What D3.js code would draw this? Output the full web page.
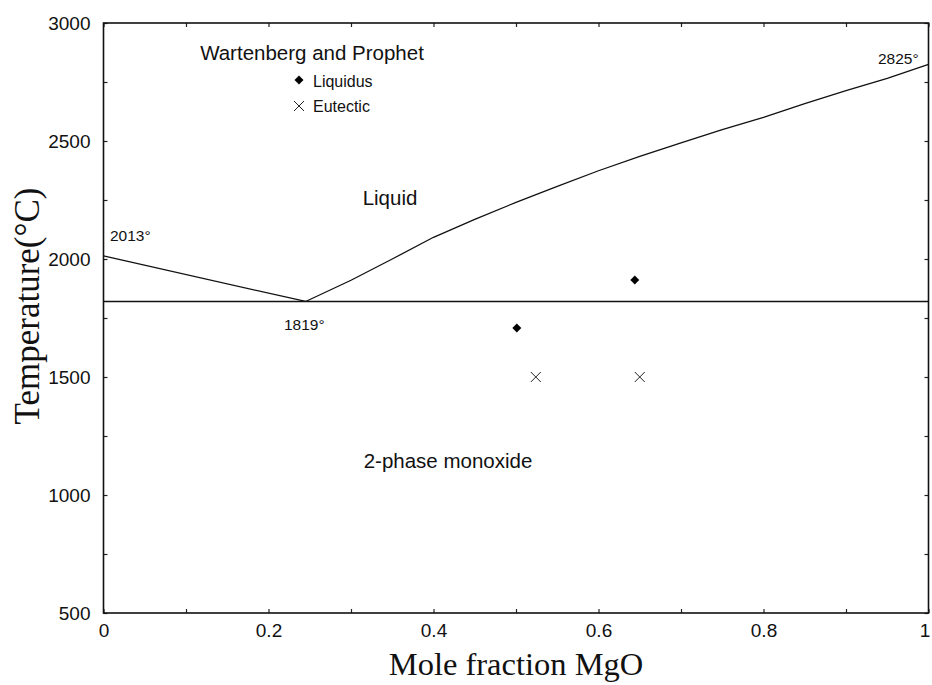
<!DOCTYPE html>
<html><head><meta charset="utf-8">
<script src="https://cdn.jsdelivr.net/npm/d3@7"></script>
<style>body{margin:0;background:#fff}</style>
</head><body><svg id="c" width="932" height="685"></svg>
<script>
// Data
const leftLiquidusX = [0, 0.245];
const leftLiquidusT = [2013, 1820];
const rightLiquidusX = [0.245, 0.3, 0.35, 0.4, 0.45, 0.5, 0.55, 0.6, 0.65, 0.7, 0.75, 0.8, 0.85, 0.9, 0.95, 1.0];
const rightLiquidusT = [1820, 1910, 2000, 2092, 2168, 2240, 2308, 2374, 2435, 2492, 2548, 2600, 2658, 2713, 2765, 2825];
const eutecticLineT = 1820;
const liquidusPtsX = [0.501, 0.644];
const liquidusPtsT = [1708, 1911];
const eutecticPtsX = [0.524, 0.650];
const eutecticPtsT = [1500, 1500];
const xTickLabels = [0, 0.2, 0.4, 0.6, 0.8, 1];
const yTickLabels = [500, 1000, 1500, 2000, 2500, 3000];

(function () {
const SANS = '"Liberation Sans",Arial,sans-serif';
const SERIF = '"Liberation Serif","Times New Roman",serif';
const svg = d3.select("#c");
const L = 103.5, R = 928.5, T = 23, B = 613;
const x = d3.scaleLinear().domain([0, 1]).range([L, R]);
const y = d3.scaleLinear().domain([500, 3000]).range([B, T]);

const g = svg.append("g");
const tickLen = 4;
const xMinor = d3.range(0, 1.0001, 0.1);
const yMinor = d3.range(500, 3001, 250);

const axB = g.append("g").attr("transform", `translate(0,${B})`)
  .call(d3.axisBottom(x).tickValues(xMinor).tickSize(-tickLen).tickFormat(d => {
    const v = Math.round(d * 10) / 10; return xTickLabels.some(t => Math.abs(t - v) < 1e-9) ? d3.format("")(v) : "";
  }).tickPadding(11));
const axT = g.append("g").attr("transform", `translate(0,${T})`)
  .call(d3.axisTop(x).tickValues(xMinor).tickSize(-tickLen).tickFormat(""));
const axL = g.append("g").attr("transform", `translate(${L},0)`)
  .call(d3.axisLeft(y).tickValues(yMinor).tickSize(-tickLen).tickFormat(d => yTickLabels.includes(d) ? d : "").tickPadding(13));
const axR = g.append("g").attr("transform", `translate(${R},0)`)
  .call(d3.axisRight(y).tickValues(yMinor).tickSize(-tickLen).tickFormat(""));
[axB, axT, axL, axR].forEach(a => {
  a.select(".domain").remove();
  a.selectAll(".tick line").attr("stroke", "#222").attr("stroke-width", 1.2);
  a.selectAll("text").style("font-size", "19px").style("font-family", SANS).attr("fill", "#111");
});
axB.selectAll(".tick text").filter(d => Math.abs(d - 1) < 1e-9).attr("dx", -4);

const line = d3.line().x(d => x(d[0])).y(d => y(d[1]));
g.append("path").datum(leftLiquidusX.map((v, i) => [v, leftLiquidusT[i]]))
  .attr("d", line).attr("fill", "none").attr("stroke", "#111").attr("stroke-width", 1.3);
g.append("path").datum(rightLiquidusX.map((v, i) => [v, rightLiquidusT[i]]))
  .attr("d", line).attr("fill", "none").attr("stroke", "#111").attr("stroke-width", 1.3);
g.append("line").attr("x1", x(0)).attr("x2", x(1)).attr("y1", y(eutecticLineT)).attr("y2", y(eutecticLineT))
  .attr("stroke", "#111").attr("stroke-width", 1.3);

g.append("rect").attr("x", L).attr("y", T).attr("width", R - L).attr("height", B - T)
  .attr("fill", "none").attr("stroke", "#111").attr("stroke-width", 1.6);

const diamond = d3.symbol(d3.symbolSquare, 40);
const dmd = (px, py) => g.append("path").attr("d", diamond()).attr("fill", "#000")
  .attr("transform", `translate(${px},${py}) rotate(45)`);
const cross = (px, py) => g.append("path")
  .attr("d", `M${px - 5},${py - 5}L${px + 5},${py + 5}M${px - 5},${py + 5}L${px + 5},${py - 5}`)
  .attr("stroke", "#222").attr("stroke-width", 1);
liquidusPtsX.forEach((v, i) => dmd(x(v), y(liquidusPtsT[i])));
eutecticPtsX.forEach((v, i) => cross(x(v), y(eutecticPtsT[i])));

const ann = (tx, ty, s, fs, anchor) => g.append("text").attr("x", tx).attr("y", ty)
  .style("font-size", fs + "px").style("font-family", SANS)
  .attr("text-anchor", anchor || "start").attr("fill", "#111").text(s);

ann(312, 60, "Wartenberg and Prophet", 20.5, "middle");
dmd(299, 80);
ann(313, 87, "Liquidus", 16);
cross(299, 106);
ann(313, 112, "Eutectic", 16);

ann(390, 205, "Liquid", 20.5, "middle");
ann(448, 468, "2-phase monoxide", 20.5, "middle");
ann(110, 241, "2013°", 15.5);
ann(284, 330, "1819°", 15.5);
ann(878, 64, "2825°", 15.5);

svg.append("text").attr("x", 516).attr("y", 675).attr("text-anchor", "middle")
  .style("font-family", SERIF).style("font-size", "32.5px").attr("fill", "#111")
  .text("Mole fraction MgO");
svg.append("text").attr("transform", "translate(39,306) rotate(-90)").attr("text-anchor", "middle")
  .style("font-family", SERIF).style("font-size", "35px").attr("fill", "#111")
  .text("Temperature(°C)");
})();
</script></body></html>
